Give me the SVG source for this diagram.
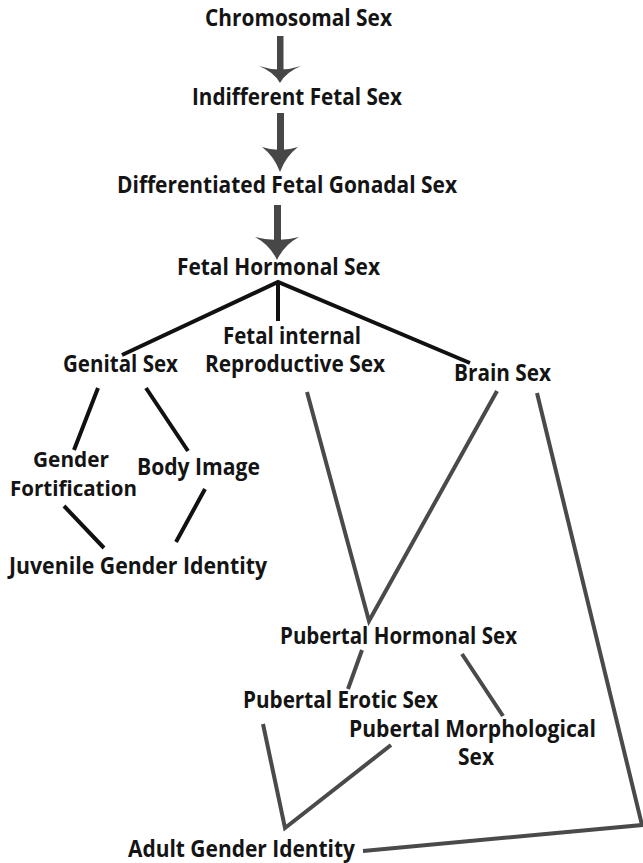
<svg xmlns="http://www.w3.org/2000/svg" width="643" height="863" viewBox="0 0 643 863">
<style>
text{font-family:"Open Sans","Liberation Sans",sans-serif;font-weight:bold;font-size:22.5px;fill:#141414}
.sm{font-size:21px}
.blk{stroke:#111;stroke-width:4;fill:none;stroke-linecap:butt}
.gry{stroke:#4a4a4a;stroke-width:4;fill:none;stroke-linecap:butt;stroke-linejoin:miter}
.arr{fill:#474747}
</style>
<rect width="643" height="863" fill="#fff"/>
<g id="connectors">
<g class="arr">
<rect x="277" y="36" width="6.5" height="34"/>
<path d="M259,66 Q280,73 301,66 Q286,72 280,83 Q274,72 259,66 Z"/>
<rect x="277" y="113" width="7" height="38"/>
<path d="M262,147 Q280,153 298,147 Q286,156 280,172 Q274,156 262,147 Z"/>
<rect x="274" y="205" width="7" height="36"/>
<path d="M255,237 Q277,243 299,237 Q284,245 277,260 Q270,245 255,237 Z"/>
</g>
<path class="blk" d="M122,355 L278,282 L470,363 M278,282 L278,321"/>
<path class="blk" d="M98,388 L74,450 M146,388 L188,451 M64,506 L104,548 M205,489 L176,542"/>
<path class="gry" d="M307,392 L369,621 L497,391 M537,393 L642,825 L363,851"/>
<path class="gry" d="M362,650 L348,689 M462,654 L503,716 M263,724 L285,828 L391,745"/>
</g>
<g id="n-chromosomal"><text x="205" y="26" textLength="187" lengthAdjust="spacingAndGlyphs">Chromosomal Sex</text></g>
<g id="n-indifferent"><text x="192" y="105" textLength="210" lengthAdjust="spacingAndGlyphs">Indifferent Fetal Sex</text></g>
<g id="n-differentiated"><text x="117" y="193" textLength="340" lengthAdjust="spacingAndGlyphs">Differentiated Fetal Gonadal Sex</text></g>
<g id="n-fetalhormonal"><text x="177" y="275" textLength="203" lengthAdjust="spacingAndGlyphs">Fetal Hormonal Sex</text></g>
<g id="n-genital"><text x="63" y="372" textLength="115" lengthAdjust="spacingAndGlyphs">Genital Sex</text></g>
<g id="n-fetalinternal"><text x="223" y="344" textLength="138" lengthAdjust="spacingAndGlyphs">Fetal internal</text><text x="205" y="372" textLength="180" lengthAdjust="spacingAndGlyphs">Reproductive Sex</text></g>
<g id="n-brain"><text x="454" y="381" textLength="97" lengthAdjust="spacingAndGlyphs">Brain Sex</text></g>
<g id="n-gender"><text class="sm" x="33" y="467" textLength="76" lengthAdjust="spacingAndGlyphs">Gender</text><text class="sm" x="10" y="496" textLength="127" lengthAdjust="spacingAndGlyphs">Fortification</text></g>
<g id="n-bodyimage"><text x="137" y="475" textLength="123" lengthAdjust="spacingAndGlyphs">Body Image</text></g>
<g id="n-juvenile"><text x="9" y="574" textLength="258" lengthAdjust="spacingAndGlyphs">Juvenile Gender Identity</text></g>
<g id="n-puberthorm"><text x="280" y="644" textLength="237" lengthAdjust="spacingAndGlyphs">Pubertal Hormonal Sex</text></g>
<g id="n-pubererotic"><text x="243" y="708" textLength="195" lengthAdjust="spacingAndGlyphs">Pubertal Erotic Sex</text></g>
<g id="n-pubermorph"><text x="349" y="737" textLength="247" lengthAdjust="spacingAndGlyphs">Pubertal Morphological</text><text x="458" y="765" textLength="36" lengthAdjust="spacingAndGlyphs">Sex</text></g>
<g id="n-adult"><text x="128" y="857" textLength="227" lengthAdjust="spacingAndGlyphs">Adult Gender Identity</text></g>
</svg>
